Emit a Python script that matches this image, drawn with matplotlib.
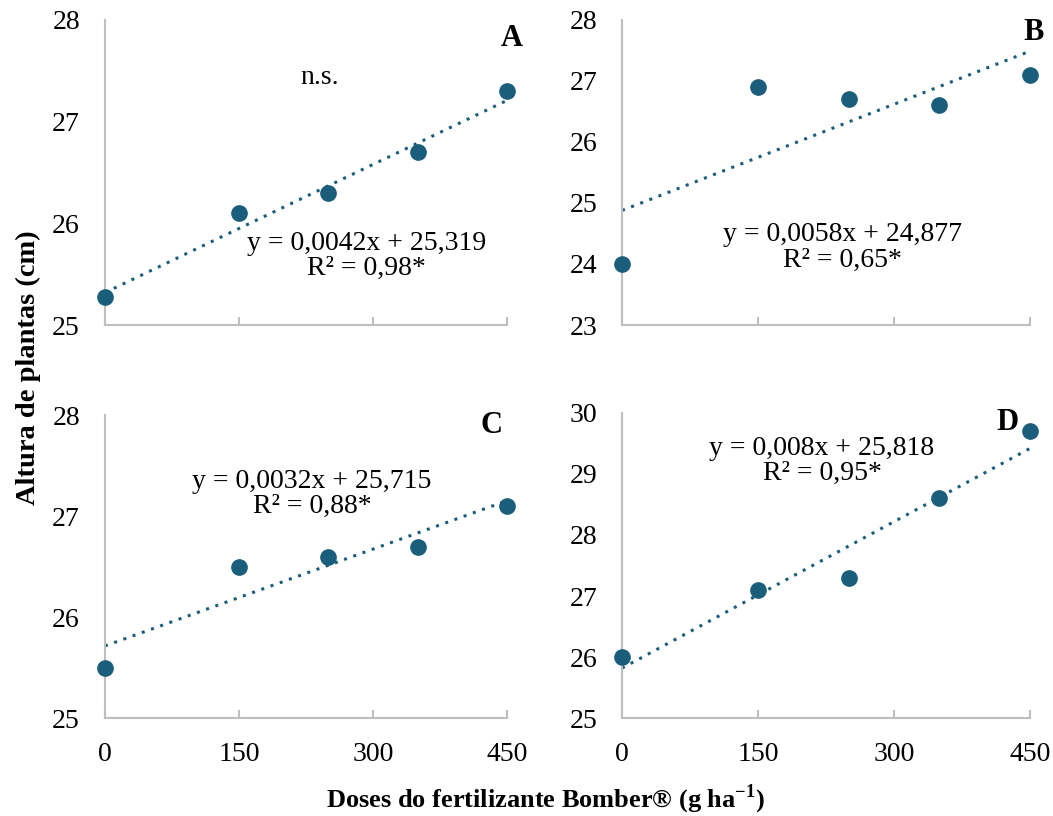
import numpy as np
import matplotlib
matplotlib.use("Agg")
import matplotlib.pyplot as plt

plt.rcParams["font.family"] = ["Liberation Serif", "DejaVu Serif"]
plt.rcParams["mathtext.fontset"] = "custom"
plt.rcParams["mathtext.rm"] = "Liberation Serif"
plt.rcParams["mathtext.bf"] = "Liberation Serif:bold"

# ---- data ----
doses = [0, 150, 250, 350, 450]
xticks = [0, 150, 300, 450]
panels = ["A", "B", "C", "D"]
height_A = [25.28, 26.1, 26.3, 26.7, 27.3]
height_B = [24.0, 26.9, 26.7, 26.6, 27.1]
height_C = [25.5, 26.5, 26.6, 26.7, 27.1]
height_D = [26.0, 27.1, 27.3, 28.6, 29.7]
slopes = [0.0042, 0.0058, 0.0032, 0.008]
intercepts = [25.319, 24.877, 25.715, 25.818]
eq_text = ["y = 0,0042x + 25,319\nR² = 0,98*",
           "y = 0,0058x + 24,877\nR² = 0,65*",
           "y = 0,0032x + 25,715\nR² = 0,88*",
           "y = 0,008x + 25,818\nR² = 0,95*"]
ylims = [(25, 28), (23, 28), (25, 28), (25, 30)]

C = "#1b5e7b"
GRID = "#bfbfbf"

# layout (figure fractions) and text spots (axes fractions)
rects = [(0.0997, 0.6017, 0.382, 0.374), (0.5907, 0.6017, 0.3875, 0.374),
         (0.0997, 0.120, 0.382, 0.371), (0.5907, 0.120, 0.3875, 0.374)]
eq_pos = [(0.65, 0.225), (0.54, 0.254), (0.515, 0.74), (0.49, 0.843)]
lab_pos = [(1.01, 0.94), (1.01, 0.957), (0.96, 0.965), (0.945, 0.97)]

fig = plt.figure(figsize=(10.53, 8.16), dpi=100)
for i, ys in enumerate([height_A, height_B, height_C, height_D]):
    ax = fig.add_axes(rects[i])
    xl = np.array([doses[0], doses[-1]])
    ax.plot(xl, slopes[i] * xl + intercepts[i], ls=(0, (1, 2.2)), lw=2.2, color=C, zorder=2)
    ax.plot(doses, ys, "o", ms=11, color=C, zorder=3, clip_on=False)
    ax.set_xlim(0, 450); ax.set_ylim(*ylims[i])
    ax.set_xticks(xticks)
    ax.set_yticks(np.arange(ylims[i][0], ylims[i][1] + 1))
    for s in ("top", "right"):
        ax.spines[s].set_visible(False)
    for s in ("left", "bottom"):
        ax.spines[s].set_color(GRID); ax.spines[s].set_linewidth(1.5)
    ax.tick_params(axis="x", length=6, width=1.5, color=GRID, labelsize=20, pad=17, direction="in")
    ax.tick_params(axis="y", length=0, labelsize=20, pad=18)
    if i < 2:
        ax.tick_params(axis="x", labelbottom=False)
    ax.text(*eq_pos[i], eq_text[i], transform=ax.transAxes, ha="center", va="center",
            fontsize=20, linespacing=1.0)
    ax.text(*lab_pos[i], panels[i], transform=ax.transAxes, ha="center", va="center",
            fontsize=22, fontweight="bold")
    if i == 0:
        ax.text(0.535, 0.81, "n.s.", transform=ax.transAxes, ha="center", va="center", fontsize=20)

fig.text(0.027, 0.55, "Altura de plantas (cm)", rotation=90, ha="center", va="center",
         fontsize=20.5, fontweight="bold")
fig.text(0.518, 0.02, r"Doses do fertilizante Bomber® (g ha$^{\mathbf{-1}}$)", ha="center",
         va="center", fontsize=19, fontweight="bold")
fig.savefig("out.png", dpi=100)
